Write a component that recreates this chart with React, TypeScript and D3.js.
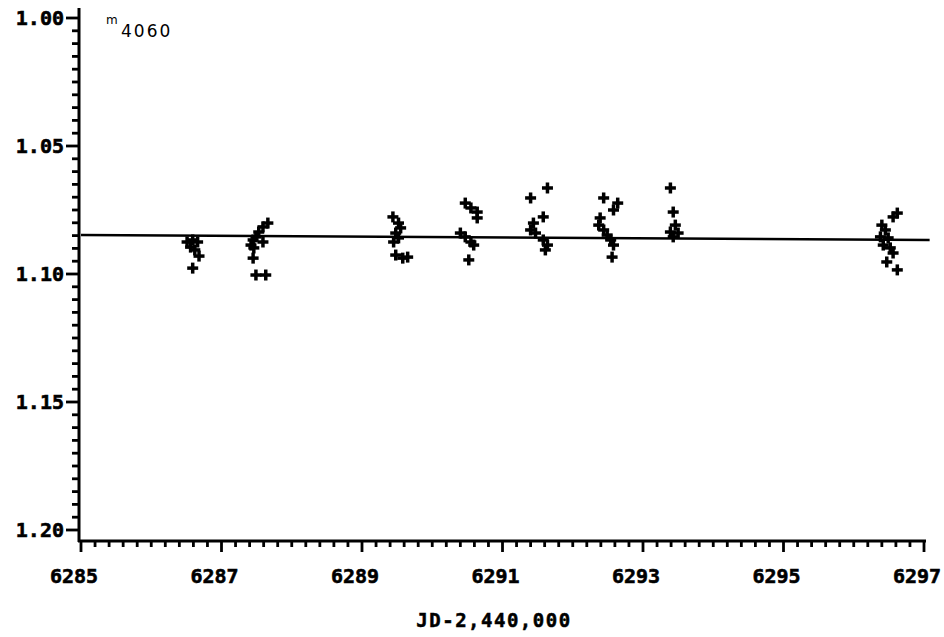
import React from "react";
import * as d3 from "d3";

// Data (JD-2,440,000 ; m4060)
const jdValues: number[] = [
  6286.51, 6286.59, 6286.66, 6286.56, 6286.62, 6286.68, 6286.59,
  6287.66, 6287.59, 6287.53, 6287.49, 6287.45, 6287.59, 6287.42, 6287.46, 6287.45, 6287.49, 6287.63,
  6289.44, 6289.52, 6289.55, 6289.48, 6289.52, 6289.45, 6289.48, 6289.65, 6289.58,
  6290.47, 6290.55, 6290.64, 6290.64, 6290.40, 6290.47, 6290.55, 6290.59, 6290.52,
  6291.40, 6291.64, 6291.58, 6291.44, 6291.40, 6291.47, 6291.58, 6291.64, 6291.61,
  6292.44, 6292.64, 6292.58, 6292.39, 6292.37, 6292.44, 6292.49, 6292.54, 6292.58, 6292.56,
  6293.39, 6293.43, 6293.46, 6293.39, 6293.50, 6293.43,
  6296.62, 6296.56, 6296.40, 6296.45, 6296.38, 6296.49, 6296.42, 6296.52, 6296.56, 6296.47, 6296.62,
];
const magValues: number[] = [
  1.0875, 1.0867, 1.0875, 1.0895, 1.0906, 1.0930, 1.0977,
  1.0801, 1.0816, 1.0836, 1.0855, 1.0867, 1.0875, 1.0887, 1.0898, 1.0938, 1.1004, 1.1004,
  1.0777, 1.0801, 1.0820, 1.0840, 1.0859, 1.0875, 1.0926, 1.0934, 1.0938,
  1.0723, 1.0742, 1.0758, 1.0781, 1.0840, 1.0855, 1.0875, 1.0887, 1.0945,
  1.0703, 1.0664, 1.0777, 1.0801, 1.0828, 1.0840, 1.0867, 1.0887, 1.0906,
  1.0703, 1.0723, 1.0750, 1.0781, 1.0809, 1.0828, 1.0848, 1.0867, 1.0887, 1.0934,
  1.0664, 1.0758, 1.0809, 1.0836, 1.0840, 1.0855,
  1.0762, 1.0777, 1.0809, 1.0828, 1.0855, 1.0859, 1.0887, 1.0898, 1.0918, 1.0953, 1.0984,
];
const meanLineJD: number[] = [6285, 6297.08];
const meanLineMag: number[] = [1.0848, 1.0867];

const xTickLabels: number[] = [6285, 6287, 6289, 6291, 6293, 6295, 6297];
const yTickLabels: number[] = [1.0, 1.05, 1.1, 1.15, 1.2];
const xTitle = "JD-2,440,000";
const seriesName = "4060";

export default function App() {
  const W = 944, H = 637;
  const axisX = 79;
  const axisBottom = 541;
  const x = d3.scaleLinear().domain([6285, 6297]).range([81, 924]);
  const y = d3.scaleLinear().domain([1.0, 1.2]).range([18, 530]);

  const xMinor = d3.range(0, 61).map((i) => 6285 + i * 0.2);
  const yMinor = d3.range(0, 41).map((i) => 1.0 + i * 0.005);
  const font = "'DejaVu Sans Mono', monospace";
  const line = d3.line<[number, number]>().x((d) => x(d[0])).y((d) => y(d[1]));
  const meanPts: [number, number][] = meanLineJD.map((j, i) => [j, meanLineMag[i]]);
  const arm = 5.5;

  return (
    <svg width={W} height={H} style={{ position: "absolute", left: 0, top: 0, background: "#fff" }}>
      {/* y axis */}
      <line x1={axisX} y1={8} x2={axisX} y2={axisBottom + 1} stroke="#000" strokeWidth={3} />
      {yMinor.map((v, i) => (
        <line key={"ym" + i} x1={axisX - (i % 10 === 0 ? 13 : 7)} x2={axisX} y1={y(v)} y2={y(v)} stroke="#000" strokeWidth={2.8} />
      ))}
      {yTickLabels.map((v) => (
        <text key={"yl" + v} x={64} y={y(v) + 7} textAnchor="end" fontFamily={font} fontWeight="bold" fontSize={20} stroke="#000" strokeWidth={0.6}>
          {v.toFixed(2)}
        </text>
      ))}
      {/* x axis */}
      <line x1={axisX - 1} y1={axisBottom} x2={x(6297) + 2} y2={axisBottom} stroke="#000" strokeWidth={3} />
      {xMinor.map((v, i) => (
        <line key={"xm" + i} x1={x(v)} x2={x(v)} y1={axisBottom} y2={axisBottom + (i % 10 === 0 ? 11 : 6)} stroke="#000" strokeWidth={2.8} />
      ))}
      {xTickLabels.map((v) => (
        <text key={"xl" + v} x={x(v) - 7} y={583} textAnchor="middle" fontFamily={font} fontWeight="bold" fontSize={20} stroke="#000" strokeWidth={0.6}>
          {v}
        </text>
      ))}
      <text x={494} y={627} textAnchor="middle" fontFamily={font} fontWeight="bold" fontSize={19} letterSpacing={1.5} stroke="#000" strokeWidth={0.5}>
        {xTitle}
      </text>
      {/* series label */}
      <text x={106} y={24} fontFamily="'DejaVu Sans', sans-serif" fontSize={12}>m</text>
      <text x={121} y={37} fontFamily="'DejaVu Sans', sans-serif" fontSize={17} letterSpacing={2}>{seriesName}</text>
      {/* mean line */}
      <path d={line(meanPts) || ""} stroke="#000" strokeWidth={2.5} fill="none" />
      {/* points */}
      {jdValues.map((j, i) => {
        const cx = x(j), cy = y(magValues[i]);
        return (
          <g key={"p" + i}>
            <line x1={cx - arm} x2={cx + arm} y1={cy} y2={cy} stroke="#000" strokeWidth={3.5} />
            <line x1={cx} x2={cx} y1={cy - arm} y2={cy + arm} stroke="#000" strokeWidth={3.5} />
          </g>
        );
      })}
    </svg>
  );
}
